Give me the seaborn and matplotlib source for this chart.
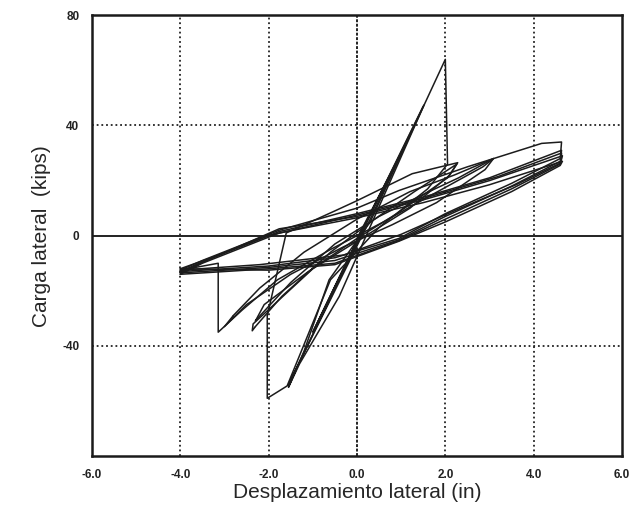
import numpy as np
import pandas as pd
import matplotlib
matplotlib.use("Agg")
import matplotlib.pyplot as plt
import seaborn as sns
from matplotlib.ticker import MultipleLocator

# ---- data: displacement (in) / lateral load (kips) ----
cycle1_disp = [0.0, 1.0, 0.05, -1.0, 0.0]
cycle1_load = [-1.0, 30.0, 0.0, -35.0, -2.0]

cycle2_disp = [0.0, 1.5, 0.3, -1.55, 0.2]
cycle2_load = [-2.0, 47.0, 6.0, -54.0, 4.0]

cycle2b_disp = [0.2, 1.52, 0.43, -0.4, -1.3, -1.55, -1.2, -0.63, 0.3]
cycle2b_load = [4.0, 47.5, 8.0, -22.0, -46.5, -55.0, -42.0, -16.0, 5.0]

cycle3_disp = [0.3, 1.0, 2.0, 2.05, 1.6, 0.5, -0.6, -1.58, -2.03, -2.03]
cycle3_load = [5.0, 29.5, 64.0, 26.0, 17.0, 3.0, -16.0, -54.5, -59.0, -29.0]

cycle4_disp = [-2.03, -1.6, -0.5, 0.0, 1.25, 2.28, 2.1, 1.2, 0.2, -1.0, -2.35, -2.37, -2.3]
cycle4_load = [-29.0, 1.0, 9.0, 12.7, 22.5, 26.5, 22.0, 10.0, 0.0, -12.0, -32.0, -34.5, -33.0]

cycle4b_disp = [-2.3, -1.7, -0.6, 0.4, 1.3, 2.26, 2.05, 0.9, 0.0, -1.1, -2.1, -2.3, -2.25]
cycle4b_load = [-33.0, -22.0, -6.0, 6.0, 16.0, 26.0, 21.0, 8.0, -1.0, -13.0, -25.0, -31.0, -30.0]

cycle5_disp = [-2.25, -1.5, -0.5, 0.5, 1.5, 2.3, 3.09, 2.9, 1.8, 0.8, -0.3, -1.5, -2.5, -3.0, -2.8]
cycle5_load = [-30.0, -17.0, -3.0, 7.0, 15.0, 21.0, 28.0, 24.0, 12.0, 4.0, -4.0, -14.0, -25.0, -33.0, -29.0]

cycle5b_disp = [-2.8, -2.2, -1.2, 0.0, 1.2, 2.2, 3.09, 2.85, 1.6, 0.6, -0.6, -1.8, -2.6, -3.14, -3.14, -4.0]
cycle5b_load = [-29.0, -19.0, -6.0, 6.0, 16.0, 22.0, 28.0, 25.0, 14.0, 5.0, -5.0, -16.0, -27.0, -35.0, -10.0, -12.5]

cycle6_disp = [-4.0, -3.5, -1.76, 0.0, 0.95, 2.5, 4.18, 4.63, 4.6, 3.5, 2.0, 0.95, -0.5, -2.0, -4.0]
cycle6_load = [-12.5, -9.0, 2.0, 10.0, 16.4, 25.0, 33.5, 34.0, 28.0, 19.0, 8.0, -1.0, -8.0, -11.0, -13.0]

cycle7_disp = [-4.0, -3.5, -1.76, 0.0, 1.5, 3.0, 4.63, 4.6, 3.5, 2.0, 0.95, -0.5, -2.0, -4.0]
cycle7_load = [-13.0, -9.5, 1.5, 8.0, 14.0, 21.0, 31.0, 27.0, 18.0, 7.0, -1.5, -9.0, -11.5, -13.5]

cycle8_disp = [-4.0, -3.4, -1.76, 0.0, 1.5, 3.0, 4.65, 4.6, 3.5, 2.0, 0.95, -0.5, -2.0, -4.0]
cycle8_load = [-13.5, -9.0, 2.5, 7.0, 13.0, 20.0, 29.0, 26.0, 17.0, 6.0, -1.8, -10.0, -12.0, -14.0]

cycle9_disp = [-4.0, -3.5, -1.76, 0.0, 1.5, 3.0, 4.65, 4.6, 3.5, 2.0, 0.95, -0.5, -2.0, -4.0]
cycle9_load = [-14.0, -10.0, 1.0, 6.5, 12.0, 18.5, 27.0, 25.5, 16.0, 5.0, -2.0, -10.5, -12.5, -12.0]

cycle10_disp = [-4.0, -3.3, -2.0, 0.0, 1.5, 3.2, 4.63, 4.62, 3.6, 2.2, 1.0, -0.3, -2.2, -4.0]
cycle10_load = [-12.0, -8.0, 0.0, 7.5, 13.5, 21.5, 30.0, 26.5, 18.5, 9.0, 0.5, -7.0, -10.5, -12.5]

cycles = [
    (cycle1_disp, cycle1_load), (cycle2_disp, cycle2_load), (cycle2b_disp, cycle2b_load),
    (cycle3_disp, cycle3_load), (cycle4_disp, cycle4_load), (cycle4b_disp, cycle4b_load),
    (cycle5_disp, cycle5_load), (cycle5b_disp, cycle5b_load), (cycle6_disp, cycle6_load),
    (cycle7_disp, cycle7_load), (cycle8_disp, cycle8_load), (cycle9_disp, cycle9_load),
    (cycle10_disp, cycle10_load),
]

x_ticks = [-6.0, -4.0, -2.0, 0.0, 2.0, 4.0, 6.0]
x_tick_labels = ["-6.0", "-4.0", "-2.0", "0.0", "2.0", "4.0", "6.0"]
y_ticks = [-40, 0, 40, 80]
y_tick_labels = ["-40", "0", "40", "80"]

rows = []
for i, (d, l) in enumerate(cycles):
    for j, (xx, yy) in enumerate(zip(d, l)):
        rows.append({"disp": xx, "load": yy, "cycle": i, "order": j})
df = pd.DataFrame(rows)

sns.set_style("white")
plt.rcParams["font.family"] = ["Liberation Sans", "DejaVu Sans"]

fig = plt.figure(figsize=(6.29, 5.08), dpi=100)
ax = fig.add_axes([0.146, 0.102, 0.843, 0.868])

# grid
for gx in [-4, -2, 2, 4]:
    ax.axvline(gx, color="#222222", lw=1.3, ls=(0, (1, 1.6)), zorder=1)
for gy in [-40, 40]:
    ax.axhline(gy, color="#222222", lw=1.3, ls=(0, (1, 1.6)), zorder=1)
ax.axvline(0, color="#222222", lw=1.4, ls=(0, (1.5, 0.8)), zorder=1)
ax.axhline(0, color="#222222", lw=1.4, zorder=1)

sns.lineplot(data=df, x="disp", y="load", units="cycle", estimator=None, sort=False,
             color="#1c1c1c", lw=1.1, ax=ax, legend=False, zorder=3)

ax.set_xlim(-6, 6)
ax.set_ylim(-80, 80)
ax.set_xticks(x_ticks)
ax.set_xticklabels(x_tick_labels, fontsize=8.5, fontweight="bold", color="#222222")
ax.set_yticks(y_ticks)
ax.set_yticklabels(y_tick_labels, fontsize=8.5, fontweight="bold", color="#222222")
ax.xaxis.set_minor_locator(MultipleLocator(1))
ax.yaxis.set_minor_locator(MultipleLocator(20))
ax.tick_params(axis="both", which="both", direction="in", length=3, width=1, colors="#222222")
ax.tick_params(axis="x", which="major", pad=9)
ax.tick_params(axis="y", which="major", pad=9)

for s in ax.spines.values():
    s.set_linewidth(1.8)
    s.set_color("#1a1a1a")

ax.set_xlabel("Desplazamiento lateral (in)", fontsize=15, labelpad=2)
ax.set_ylabel("Carga lateral  (kips)", fontsize=15, labelpad=8)

fig.savefig("out.png", dpi=100)
